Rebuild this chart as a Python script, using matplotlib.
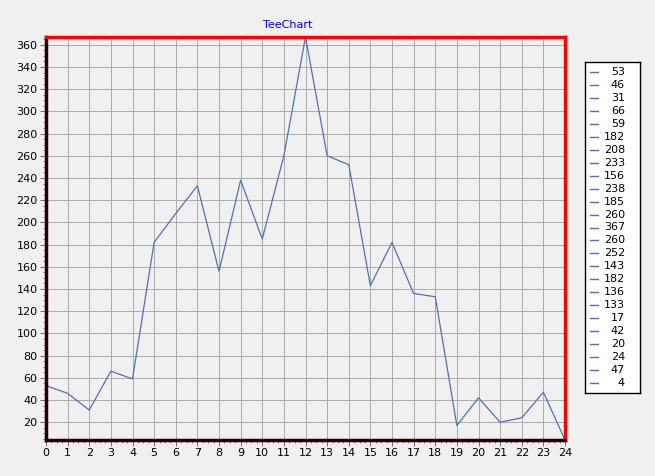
import matplotlib
matplotlib.use("Agg")
import matplotlib.pyplot as plt
from matplotlib.ticker import MultipleLocator

x_vals = list(range(25))
y_vals = [53, 46, 31, 66, 59, 182, 208, 233, 156, 238, 185, 260, 367, 260, 252,
          143, 182, 136, 133, 17, 42, 20, 24, 47, 4]
title = "TeeChart"
line_color = "#5470b4"
bg = "#f0f0f0"

W, H = 655, 476
fig = plt.figure(figsize=(W / 100, H / 100), dpi=100, facecolor=bg)
plt.rcParams['font.family'] = ['DejaVu Sans']

L, R, T, B = 46, 565, 37, 440
ax = fig.add_axes([L / W, (H - B) / H, (R - L) / W, (B - T) / H], facecolor=bg)
ax.plot(x_vals, y_vals, color=line_color, lw=0.9)
ax.set_xlim(0, 24)
ax.set_ylim(min(y_vals), max(y_vals))
ax.xaxis.set_major_locator(MultipleLocator(1))
ax.xaxis.set_minor_locator(MultipleLocator(0.25))
ax.yaxis.set_major_locator(MultipleLocator(20))
ax.yaxis.set_minor_locator(MultipleLocator(5))
ax.grid(True, which='major', color='#acacac', lw=0.72)
ax.set_axisbelow(True)
ax.tick_params(which='major', length=4, width=0.72, color='#707070', labelsize=8, pad=2)
ax.tick_params(which='minor', length=2, width=0.72, color='#808080')
for s in ['top', 'right']:
    ax.spines[s].set_color('red')
    ax.spines[s].set_linewidth(2.5)
for s in ['left', 'bottom']:
    ax.spines[s].set_color('#200000')
    ax.spines[s].set_linewidth(2.5)

fig.text(288 / W, 1 - 25 / H, title, color='blue', fontsize=8, ha='center', va='center')

# legend
lx0, lx1, ly0, ly1 = 585, 640, 62, 393
lax = fig.add_axes([lx0 / W, (H - ly1) / H, (lx1 - lx0) / W, (ly1 - ly0) / H], facecolor='white')
lax.set_xlim(0, 55)
lax.set_ylim(len(y_vals) - 0.5 + 0.3, -0.5 - 0.3)
lax.set_xticks([]); lax.set_yticks([])
for s in lax.spines.values():
    s.set_color('black'); s.set_linewidth(1)
for i, v in enumerate(y_vals):
    lax.plot([5, 13], [i, i], color=line_color, lw=1)
    lax.text(40, i, str(v), ha='right', va='center', fontsize=8)

fig.savefig("out.png", dpi=100, facecolor=bg)
